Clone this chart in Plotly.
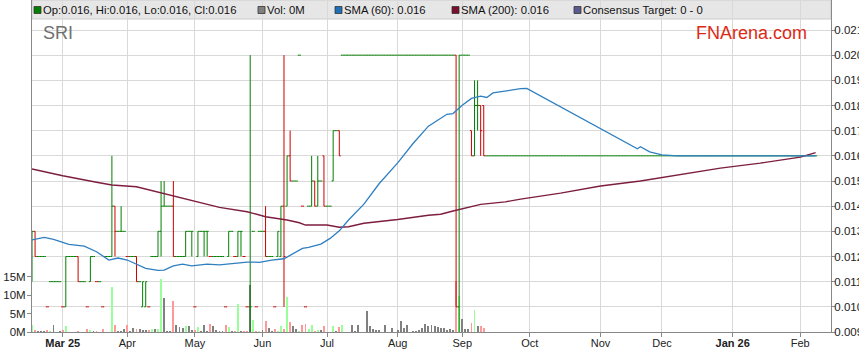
import pandas as pd
import plotly.graph_objects as go

# ---------------- data ----------------
first_day = "2025-02-17"          # first trading day shown (Mon)
n_days = 256                      # weekdays up to 2026-02-09

closes = [
    0.013, 0.012, 0.012, 0.012, 0.012, 0.010, 0.011, 0.011, 0.011, 0.011,
    0.010, 0.012, 0.012, 0.012, 0.012, 0.011, 0.011, 0.011, 0.010, 0.012,
    0.012, 0.011, 0.011, 0.010, 0.012, 0.012, 0.014, 0.013, 0.013, 0.013,
    0.013, 0.012, 0.012, 0.012, 0.011, 0.011, 0.011, 0.011, 0.010, 0.012,
    0.012, 0.013, 0.014, 0.014, 0.014, 0.014, 0.012, 0.012, 0.012, 0.012,
    0.013, 0.013, 0.013, 0.010, 0.013, 0.013, 0.013, 0.013, 0.012, 0.012,
    0.012, 0.012, 0.012, 0.010, 0.013, 0.013, 0.012, 0.013, 0.013, 0.012,
    0.010, 0.010, 0.013, 0.010, 0.013, 0.013, 0.012, 0.012, 0.012, 0.010,
    0.013, 0.014, 0.012, 0.016, 0.015, 0.015, 0.015, 0.020, 0.014, 0.010,
    0.014, 0.015, 0.014, 0.015, 0.015, 0.014, 0.014, 0.014, 0.017, 0.017,
    0.016, 0.020, 0.020, 0.020, 0.020, 0.020, 0.020, 0.020, 0.020, 0.020,
    0.020, 0.020, 0.020, 0.020, 0.020, 0.020, 0.020, 0.020, 0.020, 0.020,
    0.020, 0.020, 0.020, 0.020, 0.020, 0.020, 0.020, 0.020, 0.020, 0.020,
    0.020, 0.020, 0.020, 0.020, 0.020, 0.020, 0.020, 0.020, 0.010, 0.020,
    0.020, 0.020, 0.020, 0.016, 0.018, 0.018, 0.017, 0.016, 0.016, 0.016,
    0.016, 0.016, 0.016, 0.016, 0.016, 0.016, 0.016, 0.016, 0.016, 0.016,
    0.016, 0.016, 0.016, 0.016, 0.016, 0.016, 0.016, 0.016, 0.016, 0.016,
    0.016, 0.016, 0.016, 0.016, 0.016, 0.016, 0.016, 0.016, 0.016, 0.016,
    0.016, 0.016, 0.016, 0.016, 0.016, 0.016, 0.016, 0.016, 0.016, 0.016,
    0.016, 0.016, 0.016, 0.016, 0.016, 0.016, 0.016, 0.016, 0.016, 0.016,
    0.016, 0.016, 0.016, 0.016, 0.016, 0.016, 0.016, 0.016, 0.016, 0.016,
    0.016, 0.016, 0.016, 0.016, 0.016, 0.016, 0.016, 0.016, 0.016, 0.016,
    0.016, 0.016, 0.016, 0.016, 0.016, 0.016, 0.016, 0.016, 0.016, 0.016,
    0.016, 0.016, 0.016, 0.016, 0.016, 0.016, 0.016, 0.016, 0.016, 0.016,
    0.016, 0.016, 0.016, 0.016, 0.016, 0.016, 0.016, 0.016, 0.016, 0.016,
    0.016, 0.016, 0.016, 0.016, 0.016, 0.016,
]

# open / high / low for the traded days; later days had no volume (flat at close)
opens_traded = [
    0.011, 0.013, 0.012, 0.012, 0.012, 0.010, 0.011, 0.011, 0.011, 0.011,
    0.010, 0.010, 0.012, 0.012, 0.012, 0.012, 0.011, 0.011, 0.010, 0.011,
    0.012, 0.011, 0.011, 0.010, 0.012, 0.012, 0.012, 0.014, 0.013, 0.013,
    0.013, 0.012, 0.012, 0.012, 0.012, 0.011, 0.010, 0.010, 0.010, 0.012,
    0.012, 0.012, 0.013, 0.014, 0.014, 0.014, 0.014, 0.012, 0.012, 0.012,
    0.012, 0.013, 0.013, 0.010, 0.012, 0.013, 0.013, 0.013, 0.012, 0.012,
    0.012, 0.012, 0.012, 0.010, 0.012, 0.013, 0.012, 0.012, 0.013, 0.012,
    0.010, 0.010, 0.013, 0.010, 0.013, 0.013, 0.013, 0.012, 0.012, 0.010,
    0.012, 0.012, 0.014, 0.014, 0.016, 0.015, 0.015, 0.020, 0.014, 0.010,
    0.014, 0.014, 0.015, 0.014, 0.015, 0.016, 0.014, 0.014, 0.015, 0.017,
    0.017, 0.020, 0.020, 0.020, 0.020, 0.020, 0.020, 0.020, 0.020, 0.020,
    0.020, 0.020, 0.020, 0.020, 0.020, 0.020, 0.020, 0.020, 0.020, 0.020,
    0.020, 0.020, 0.020, 0.020, 0.020, 0.020, 0.020, 0.020, 0.020, 0.020,
    0.020, 0.020, 0.020, 0.020, 0.020, 0.020, 0.020, 0.020, 0.020, 0.010,
    0.020, 0.020, 0.020, 0.017, 0.016, 0.018, 0.018, 0.018, 0.016, 0.016,
]
highs_traded = [
    0.013, 0.013, 0.012, 0.012, 0.012, 0.010, 0.011, 0.011, 0.011, 0.011,
    0.010, 0.012, 0.012, 0.012, 0.012, 0.012, 0.011, 0.011, 0.010, 0.012,
    0.012, 0.011, 0.011, 0.010, 0.012, 0.012, 0.016, 0.014, 0.013, 0.014,
    0.013, 0.012, 0.012, 0.012, 0.012, 0.011, 0.011, 0.011, 0.010, 0.012,
    0.012, 0.013, 0.015, 0.015, 0.014, 0.014, 0.015, 0.012, 0.012, 0.012,
    0.013, 0.013, 0.013, 0.010, 0.013, 0.013, 0.013, 0.013, 0.012, 0.012,
    0.012, 0.012, 0.012, 0.010, 0.013, 0.013, 0.012, 0.013, 0.013, 0.012,
    0.010, 0.020, 0.013, 0.010, 0.013, 0.013, 0.014, 0.012, 0.012, 0.010,
    0.013, 0.014, 0.020, 0.016, 0.017, 0.015, 0.015, 0.020, 0.014, 0.010,
    0.014, 0.016, 0.015, 0.016, 0.015, 0.016, 0.014, 0.014, 0.017, 0.017,
    0.017, 0.020, 0.020, 0.020, 0.020, 0.020, 0.020, 0.020, 0.020, 0.020,
    0.020, 0.020, 0.020, 0.020, 0.020, 0.020, 0.020, 0.020, 0.020, 0.020,
    0.020, 0.020, 0.020, 0.020, 0.020, 0.020, 0.020, 0.020, 0.020, 0.020,
    0.020, 0.020, 0.020, 0.020, 0.020, 0.020, 0.020, 0.020, 0.020, 0.020,
    0.020, 0.020, 0.020, 0.017, 0.019, 0.019, 0.018, 0.018, 0.016, 0.016,
]
lows_traded = [
    0.011, 0.012, 0.012, 0.012, 0.012, 0.010, 0.011, 0.011, 0.011, 0.011,
    0.010, 0.010, 0.012, 0.012, 0.012, 0.011, 0.011, 0.011, 0.010, 0.011,
    0.012, 0.011, 0.011, 0.010, 0.012, 0.012, 0.012, 0.012, 0.013, 0.013,
    0.013, 0.012, 0.012, 0.012, 0.011, 0.011, 0.010, 0.010, 0.010, 0.012,
    0.012, 0.012, 0.012, 0.014, 0.014, 0.014, 0.012, 0.012, 0.012, 0.012,
    0.012, 0.013, 0.012, 0.010, 0.012, 0.013, 0.012, 0.012, 0.012, 0.012,
    0.012, 0.012, 0.012, 0.010, 0.012, 0.013, 0.012, 0.012, 0.012, 0.012,
    0.010, 0.009, 0.013, 0.010, 0.013, 0.013, 0.012, 0.012, 0.012, 0.010,
    0.012, 0.012, 0.010, 0.014, 0.015, 0.015, 0.015, 0.020, 0.014, 0.010,
    0.014, 0.014, 0.014, 0.014, 0.015, 0.014, 0.014, 0.014, 0.015, 0.017,
    0.016, 0.020, 0.020, 0.020, 0.020, 0.020, 0.020, 0.020, 0.020, 0.020,
    0.020, 0.020, 0.020, 0.020, 0.020, 0.020, 0.020, 0.020, 0.020, 0.020,
    0.020, 0.020, 0.020, 0.020, 0.020, 0.020, 0.020, 0.020, 0.020, 0.020,
    0.020, 0.020, 0.020, 0.020, 0.020, 0.020, 0.020, 0.020, 0.010, 0.009,
    0.020, 0.020, 0.020, 0.016, 0.016, 0.017, 0.016, 0.016, 0.016, 0.016,
]

volume_m = [
    1.8, 0.5, 0.2, 0.3, 0.3, 0.6, 0.2, 1.9, 0.1, 0.2,
    0.5, 1.6, 0.1, 0.1, 0.1, 0.2, 0.1, 0.1, 0.8, 0.6,
    0.3, 0.2, 0.1, 0.8, 0.1, 0.1, 12.3, 1.9, 0.3, 0.4,
    0.8, 1.9, 0.3, 1.0, 0.7, 0.8, 0.6, 0.6, 0.5, 0.9,
    0.7, 0.9, 14.4, 9.1, 0.3, 0.2, 8.5, 1.9, 1.4, 1.2,
    1.6, 1.7, 0.6, 0.6, 1.4, 0.4, 1.8, 0.3, 2.2, 1.5,
    0.6, 0.2, 0.3, 2.0, 1.4, 0.2, 0.3, 7.6, 0.3, 0.4,
    0.3, 12.8, 3.3, 0.4, 0.3, 0.6, 3.0, 1.2, 0.3, 0.8,
    0.3, 1.6, 0.8, 9.5, 2.7, 1.6, 0.8, 0.4, 1.8, 2.2,
    0.8, 1.9, 0.3, 0.5, 0.6, 1.6, 0.1, 0.1, 1.6, 0.3,
    1.3, 1.8, 0.0, 0.0, 1.8, 0.3, 1.9, 0.0, 0.0, 5.6,
    1.6, 0.8, 0.6, 0.6, 0.0, 1.9, 0.0, 1.1, 0.0, 0.6,
    3.0, 1.0, 2.0, 0.0, 0.2, 0.3, 0.6, 1.1, 2.1, 1.5,
    1.9, 1.7, 1.3, 1.1, 1.2, 0.6, 0.9, 0.6, 13.8, 9.8,
    3.6, 0.9, 0.9, 2.4, 6.0, 1.6, 1.6, 1.0, 0.0, 0.0,
    0, 0, 0, 0, 0, 0, 0, 0, 0, 0,
    0, 0, 0, 0, 0, 0, 0, 0, 0, 0,
    0, 0, 0, 0, 0, 0, 0, 0, 0, 0,
    0, 0, 0, 0, 0, 0, 0, 0, 0, 0,
    0, 0, 0, 0, 0, 0, 0, 0, 0, 0,
    0, 0, 0, 0, 0, 0, 0, 0, 0, 0,
    0, 0, 0, 0, 0, 0, 0, 0, 0, 0,
    0, 0, 0, 0, 0, 0, 0, 0, 0, 0,
    0, 0, 0, 0, 0, 0, 0, 0, 0, 0,
    0, 0, 0, 0, 0, 0, 0, 0, 0, 0,
    0, 0, 0, 0, 0, 0,
]

sma60_dates = [
    "2025-02-17", "2025-02-21", "2025-02-26", "2025-03-05", "2025-03-12",
    "2025-03-18", "2025-03-24", "2025-03-27", "2025-04-01", "2025-04-04",
    "2025-04-09", "2025-04-15", "2025-04-17", "2025-04-22", "2025-04-25",
    "2025-04-30", "2025-05-07", "2025-05-13", "2025-05-19", "2025-05-26",
    "2025-05-30", "2025-06-05", "2025-06-11", "2025-06-16", "2025-06-19",
    "2025-06-23", "2025-06-27", "2025-07-02", "2025-07-07", "2025-07-10",
    "2025-07-17", "2025-07-24", "2025-08-01", "2025-08-08", "2025-08-15",
    "2025-08-25", "2025-08-27", "2025-09-01", "2025-09-04", "2025-09-09",
    "2025-09-11", "2025-09-15", "2025-09-19", "2025-09-26", "2025-09-30",
    "2025-10-13", "2025-10-27", "2025-11-10", "2025-11-19", "2025-11-20",
    "2025-11-25", "2025-12-01", "2025-12-08", "2026-02-09",
]
sma60_values = [
    0.01266, 0.01276, 0.01268, 0.01248, 0.01241,
    0.01219, 0.01186, 0.01194, 0.01186, 0.01170,
    0.01153, 0.01145, 0.01146, 0.01163, 0.01170,
    0.01163, 0.01170, 0.01167, 0.01173, 0.01178,
    0.01177, 0.01186, 0.01191, 0.01212, 0.01232,
    0.01236, 0.01249, 0.01272, 0.01302, 0.01345,
    0.01408, 0.01490, 0.01572, 0.01649, 0.01718,
    0.01765, 0.01768, 0.01801, 0.01828, 0.01837,
    0.01832, 0.01850, 0.01858, 0.01867, 0.01868,
    0.01808, 0.01741, 0.01674, 0.01628, 0.01636,
    0.01616, 0.01604, 0.01600, 0.01600,
]

sma200_dates = [
    "2025-02-17", "2025-03-03", "2025-03-18", "2025-03-25", "2025-04-04",
    "2025-04-16", "2025-04-30", "2025-05-13", "2025-05-26", "2025-06-03",
    "2025-06-12", "2025-06-18", "2025-06-20", "2025-07-01", "2025-07-07",
    "2025-07-10", "2025-07-17", "2025-08-01", "2025-08-15", "2025-08-21",
    "2025-08-27", "2025-09-09", "2025-09-19", "2025-09-26", "2025-10-15",
    "2025-11-03", "2025-11-20", "2025-12-09", "2025-12-26", "2026-01-14",
    "2026-02-02", "2026-02-09",
]
sma200_values = [
    0.01548, 0.01521, 0.01495, 0.01484, 0.01477,
    0.01452, 0.01422, 0.01395, 0.01378, 0.01358,
    0.01345, 0.01334, 0.01325, 0.01325, 0.01316,
    0.01318, 0.01332, 0.01347, 0.01364, 0.01368,
    0.01381, 0.01407, 0.01417, 0.01428, 0.01452,
    0.01480, 0.01500, 0.01527, 0.01551, 0.01571,
    0.01595, 0.01613,
]

month_tick_dates = ["2025-03-03", "2025-04-01", "2025-05-01", "2025-06-02",
                    "2025-07-01", "2025-08-01", "2025-09-01", "2025-10-01",
                    "2025-11-03", "2025-12-01", "2026-01-01", "2026-02-02"]
month_tick_labels = ["<b>Mar 25</b>", "Apr", "May", "Jun", "Jul", "Aug", "Sep",
                     "Oct", "Nov", "Dec", "<b>Jan 26</b>", "Feb"]
price_ticks = [0.009, 0.010, 0.011, 0.012, 0.013, 0.014, 0.015, 0.016,
               0.017, 0.018, 0.019, 0.020, 0.021]
volume_ticks = [0, 5, 10, 15]
volume_tick_labels = ["0M", "5M", "10M", "15M"]

legend_items = [
    ("Op:0.016, Hi:0.016, Lo:0.016, Cl:0.016", "#008000"),
    ("Vol: 0M", "#808080"),
    ("SMA (60): 0.016", "#1f70b8"),
    ("SMA (200): 0.016", "#7a0f30"),
    ("Consensus Target: 0 - 0", "#5a5a90"),
]

# ---------------- derived ----------------
assert len(closes) == n_days and len(volume_m) == n_days
dates = pd.bdate_range(first_day, periods=n_days)
n_tr = len(opens_traded)
opens = opens_traded + closes[n_tr:]
highs = highs_traded + closes[n_tr:]
lows = lows_traded + closes[n_tr:]

prev_close = [opens[0]] + closes[:-1]
is_down = [c < p for c, p in zip(closes, prev_close)]
vol_colors = ["#99ff99" if c > p else ("#ff9999" if c < p else "#808080")
              for c, p in zip(closes, prev_close)]

GREEN = "#008000"
RED = "#cc0000"
FONT = "Liberation Sans, Arial, sans-serif"

fig = go.Figure()

# volume (left axis, drawn underneath)
fig.add_trace(go.Bar(
    x=dates, y=volume_m, marker=dict(color=vol_colors, line=dict(width=0)),
    width=0.62 * 86400000, yaxis="y", showlegend=False, hoverinfo="skip"))

# OHLC bars split by direction
for colour, keep in ((GREEN, [not d for d in is_down]), (RED, is_down)):
    pick = lambda arr: [v if k else None for v, k in zip(arr, keep)]
    fig.add_trace(go.Ohlc(
        x=dates, open=pick(opens), high=pick(highs), low=pick(lows), close=pick(closes),
        increasing=dict(line=dict(color=colour, width=1)),
        decreasing=dict(line=dict(color=colour, width=1)),
        tickwidth=0.5, yaxis="y2", showlegend=False, hoverinfo="skip"))

# moving averages
fig.add_trace(go.Scatter(x=pd.to_datetime(sma200_dates), y=sma200_values, mode="lines",
                         line=dict(color="#7d1d3f", width=1.4), yaxis="y2",
                         showlegend=False, hoverinfo="skip"))
fig.add_trace(go.Scatter(x=pd.to_datetime(sma60_dates), y=sma60_values, mode="lines",
                         line=dict(color="#2f7fc1", width=1.3), yaxis="y2",
                         showlegend=False, hoverinfo="skip"))

L, R, T, B = 32, 28, 0, 31
W, H = 859, 363
PW, PH = W - L - R, H - T - B


def px_x(px):
    return (px - L) / PW


def px_y(py):
    return (T + PH - py) / PH


shapes = [dict(type="rect", xref="paper", yref="paper", x0=0, x1=1,
               y0=px_y(19), y1=px_y(0), fillcolor="#e6e6e6",
               line=dict(color="#cccccc", width=1), layer="below")]
annotations = []
text_x = [42, 266, 343, 460, 582]
for (txt, col), tx in zip(legend_items, text_x):
    shapes.append(dict(type="rect", xref="paper", yref="paper",
                       x0=px_x(tx - 8), x1=px_x(tx - 1), y0=px_y(13.5), y1=px_y(6.5),
                       fillcolor=col, line=dict(color="#333333", width=0.8), layer="above"))
    annotations.append(dict(xref="paper", yref="paper", x=px_x(tx), y=px_y(10),
                            xanchor="left", yanchor="middle", showarrow=False, text=txt,
                            font=dict(family=FONT, size=11.3, color="#111111"),
                            borderpad=0))
annotations.append(dict(xref="paper", yref="paper", x=px_x(41), y=px_y(33),
                        xanchor="left", yanchor="middle", showarrow=False, text="SRI",
                        font=dict(family=FONT, size=18, color="#707070")))
annotations.append(dict(xref="paper", yref="paper", x=px_x(809), y=px_y(33),
                        xanchor="right", yanchor="middle", showarrow=False, text="FNArena.com",
                        font=dict(family=FONT, size=18, color="#dd2a16")))

fig.update_layout(
    width=W, height=H,
    margin=dict(l=L, r=R, t=T, b=B, pad=0),
    paper_bgcolor="white", plot_bgcolor="white",
    showlegend=False, bargap=0,
    font=dict(family=FONT, size=11, color="#222222"),
    shapes=shapes, annotations=annotations,
    xaxis=dict(
        type="date", range=["2025-02-17", "2026-02-16"],
        rangebreaks=[dict(bounds=["sat", "mon"])],
        tickmode="array", tickvals=pd.to_datetime(month_tick_dates), ticktext=month_tick_labels,
        showgrid=True, gridcolor="#d9d9d9", gridwidth=1,
        showline=True, linecolor="#888888", linewidth=1,
        ticks="outside", ticklen=4, tickcolor="#888888", ticklabelstandoff=-3,
        tickfont=dict(family=FONT, size=11, color="#222222"),
        zeroline=False, automargin=False, rangeslider=dict(visible=False), fixedrange=True),
    yaxis=dict(
        side="left", range=[0, 90], tickmode="array", tickvals=volume_ticks,
        ticktext=volume_tick_labels, showgrid=False, zeroline=False,
        showline=True, linecolor="#888888", linewidth=1,
        ticks="outside", ticklen=4, tickcolor="#888888", ticklabelstandoff=-1,
        tickfont=dict(family=FONT, size=11.5, color="#222222"), automargin=False,
        fixedrange=True),
    yaxis2=dict(
        side="right", overlaying="y", range=[0.009, 0.022192],
        tickmode="array", tickvals=price_ticks, tickformat=".3f",
        showgrid=True, gridcolor="#d9d9d9", gridwidth=1, zeroline=False,
        showline=True, linecolor="#888888", linewidth=1,
        ticks="outside", ticklen=3, tickcolor="#888888", ticklabelstandoff=-3,
        tickfont=dict(family=FONT, size=11.5, color="#222222"), automargin=False,
        fixedrange=True),
)

fig.write_html("out.html",
               config={"displayModeBar": False, "staticPlot": True},
               post_script="document.body.style.margin='0px';document.body.style.padding='0px';")
